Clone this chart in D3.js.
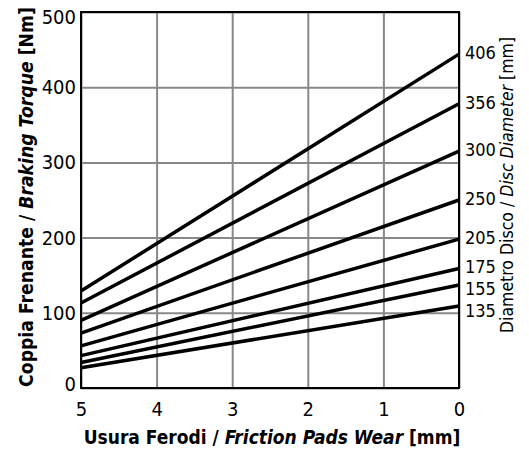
<!DOCTYPE html>
<html>
<head>
<meta charset="utf-8">
<script src="https://cdn.jsdelivr.net/npm/d3@7"></script>
<style>
  html, body { margin: 0; padding: 0; background: #fff; }
  svg { display: block; }
  text { font-family: "DejaVu Sans Condensed", "DejaVu Sans", sans-serif; fill: #000; }
</style>
</head>
<body>
<svg id="chart" width="529" height="451"></svg>
<script>
// ---- data ----
const wear = [5, 0];                                   // friction pad wear [mm]
const diameters = [406, 356, 300, 250, 205, 175, 155, 135];   // disc diameter [mm]
const torqueAtWear5 = [129, 113, 90, 73, 56, 43, 34, 27];     // Nm at 5 mm wear
const torqueAtWear0 = [444, 378, 315, 250, 198, 159, 137, 109]; // Nm at 0 mm wear
const xTicks = [5, 4, 3, 2, 1, 0];
const yTicks = [0, 100, 200, 300, 400, 500];

// ---- layout ----
const L = 81, R = 459, T = 12, B = 388;
const svg = d3.select("#chart");
const x = d3.scaleLinear().domain([5, 0]).range([L, R]);
const y = d3.scaleLinear().domain([0, 500]).range([B, T]);

// grid (vertical)
const gx = svg.append("g").attr("transform", `translate(0,${B})`)
  .call(d3.axisBottom(x).tickValues(xTicks).tickSize(-(B - T)).tickPadding(14).tickFormat(d3.format("d")));
gx.select(".domain").remove();
gx.selectAll("line").attr("stroke", "#888").attr("stroke-width", 2);
gx.selectAll("text").attr("font-size", 20).attr("font-family", "DejaVu Sans Condensed");

// grid (horizontal)
const gy = svg.append("g").attr("transform", `translate(${L},0)`)
  .call(d3.axisLeft(y).tickValues(yTicks).tickSize(-(R - L)).tickPadding(5).tickFormat(d3.format("d")));
gy.select(".domain").remove();
gy.selectAll("line").attr("stroke", "#888").attr("stroke-width", 2);
gy.selectAll("text").attr("font-size", 20).attr("font-family", "DejaVu Sans Condensed")
  .attr("dy", d => d === 500 ? "0.55em" : d === 0 ? "0.12em" : "0.32em");

// frame
svg.append("rect").attr("x", L).attr("y", T).attr("width", R - L).attr("height", B - T)
  .attr("fill", "none").attr("stroke", "#000").attr("stroke-width", 2);

// series lines
const series = diameters.map((d, i) => ({
  d, pts: [[wear[0], torqueAtWear5[i]], [wear[1], torqueAtWear0[i]]]
}));
const line = d3.line().x(p => x(p[0])).y(p => y(p[1]));
svg.append("g").selectAll("path").data(series).join("path")
  .attr("d", s => line(s.pts))
  .attr("fill", "none").attr("stroke", "#000").attr("stroke-width", 3.5);

// right labels with simple collision avoidance
let prev = -Infinity;
const labelY = series.map(s => {
  let yy = y(s.pts[1][1]) - 1.5;
  if (yy < prev + 22) yy = prev + 22;
  prev = yy;
  return yy;
});
svg.append("g").selectAll("text").data(series).join("text")
  .attr("x", R + 6).attr("y", (s, i) => labelY[i]).attr("dy", "0.35em")
  .attr("font-size", 18).text(s => s.d);

// axis titles
const xt = svg.append("text").attr("x", 272).attr("y", 444).attr("text-anchor", "middle")
  .attr("font-size", 19).attr("font-weight", "bold");
xt.append("tspan").text("Usura Ferodi / ");
xt.append("tspan").attr("font-style", "italic").text("Friction Pads Wear");
xt.append("tspan").text(" [mm]");

const yt = svg.append("text").attr("transform", "translate(33,197) rotate(-90)").attr("text-anchor", "middle")
  .attr("font-size", 19.2).attr("font-weight", "bold");
yt.append("tspan").text("Coppia Frenante / ");
yt.append("tspan").attr("font-style", "italic").text("Braking Torque");
yt.append("tspan").text(" [Nm]");

const rt = svg.append("text").attr("transform", "translate(513,185) rotate(-90)").attr("text-anchor", "middle")
  .attr("font-size", 17.5);
rt.append("tspan").text("Diametro Disco / ");
rt.append("tspan").attr("font-style", "italic").text("Disc Diameter");
rt.append("tspan").text(" [mm]");
</script>
</body>
</html>
